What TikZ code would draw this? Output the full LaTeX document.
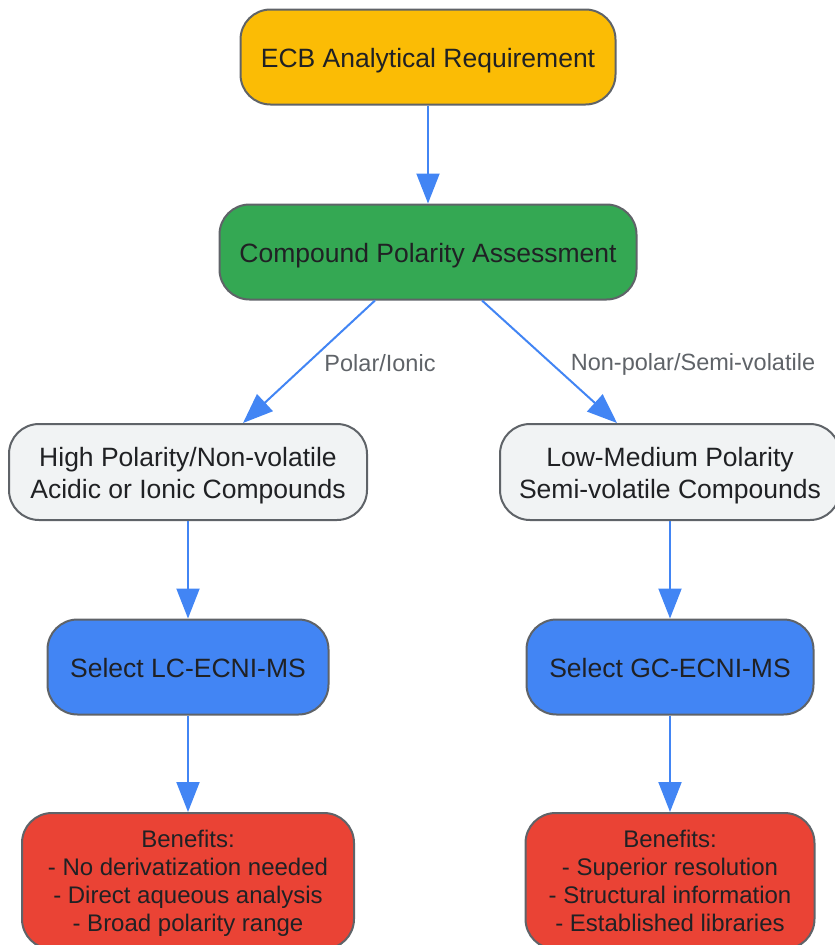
\documentclass[tikz,border=0pt]{standalone}
\usepackage{fontspec}
\setmainfont{Liberation Sans}
\usetikzlibrary{arrows.meta}
\definecolor{cyellow}{HTML}{FBBC05}
\definecolor{cgreen}{HTML}{34A853}
\definecolor{cgray}{HTML}{F1F3F4}
\definecolor{cblue}{HTML}{4285F4}
\definecolor{cred}{HTML}{EA4335}
\definecolor{cborder}{HTML}{5F6368}
\definecolor{ctext}{HTML}{202124}
\definecolor{clabel}{HTML}{5F6368}
\newcommand{\boxtext}[2][8pt]{\raisebox{0pt}[\dimexpr\height+#1\relax][\depth]{\begin{tabular}{@{}c@{}}#2\end{tabular}}}
\begin{document}
\begin{tikzpicture}[x=1pt,y=-1pt,
  box/.style={draw=cborder, line width=2pt, rounded corners=30pt, inner sep=0pt,
    text=ctext, font=\fontsize{26.5}{32}\selectfont},
  benefit/.style={box, font=\fontsize{24}{28}\selectfont},
  arr/.style={draw=cblue, line width=2pt, -{Triangle[length=30pt,width=23pt]}},
  lbl/.style={text=clabel, font=\fontsize{23.5}{28}\selectfont, inner sep=0pt}
]
\useasboundingbox (0,0) rectangle (835,945);
\node[box, fill=cyellow, minimum width=375pt, minimum height=95pt] (ecb) at (428,57) {\boxtext{ECB Analytical Requirement}};
\node[box, fill=cgreen, minimum width=417pt, minimum height=95pt] (cpa) at (428,252) {\boxtext{Compound Polarity Assessment}};
\node[box, fill=cgray, minimum width=358pt, minimum height=96pt] (hp) at (188,472) {\boxtext{High Polarity/Non-volatile\\Acidic or Ionic Compounds}};
\node[box, fill=cgray, minimum width=340pt, minimum height=96pt] (lm) at (670,472) {\boxtext{Low-Medium Polarity\\Semi-volatile Compounds}};
\node[box, fill=cblue, minimum width=281pt, minimum height=95pt] (lc) at (188,667) {\boxtext{Select LC-ECNI-MS}};
\node[box, fill=cblue, minimum width=287pt, minimum height=95pt] (gc) at (670,667) {\boxtext{Select GC-ECNI-MS}};
\node[benefit, fill=cred, minimum width=332pt, minimum height=136pt] (bl) at (188,881) {\boxtext[5pt]{Benefits:\\- No derivatization needed\\- Direct aqueous analysis\\- Broad polarity range}};
\node[benefit, fill=cred, minimum width=289pt, minimum height=136pt] (br) at (670,881) {\boxtext[5pt]{Benefits:\\- Superior resolution\\- Structural information\\- Established libraries}};
\draw[arr] (ecb.south) -- (cpa.north);
\draw[arr] ([xshift=-53pt]cpa.south) -- ([xshift=55pt]hp.north);
\draw[arr] ([xshift=54pt]cpa.south) -- ([xshift=-53pt]lm.north);
\draw[arr] (hp.south) -- (lc.north);
\draw[arr] (lm.south) -- (gc.north);
\draw[arr] (lc.south) -- (bl.north);
\draw[arr] (gc.south) -- (br.north);
\node[lbl] (l1) at (380,363) {Polar/Ionic};
\node[lbl] (l2) at (693,364) {Non-polar/Semi-volatile};
\end{tikzpicture}
\end{document}
